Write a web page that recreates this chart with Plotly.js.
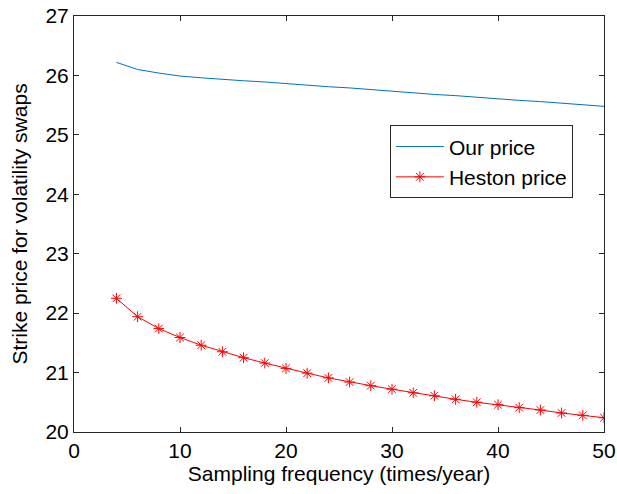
<!DOCTYPE html>
<html><head><meta charset="utf-8">
<script src="https://cdn.plot.ly/plotly-3.0.1.min.js"></script>
<style>html,body{margin:0;padding:0;background:#fff}#chart{width:617px;height:494px}</style>
</head><body><div id="chart"></div>
<script>
const freq = [4,6,8,10,12,14,16,18,20,22,24,26,28,30,32,34,36,38,40,42,44,46,48,50];
const ourPrice = [26.22,26.10,26.04,25.99,25.96,25.93,25.91,25.89,25.86,25.84,25.81,25.79,25.76,25.73,25.71,25.68,25.66,25.63,25.61,25.58,25.56,25.53,25.51,25.48];
const hestonPrice = [22.25,21.94,21.74,21.59,21.46,21.35,21.25,21.16,21.07,20.99,20.91,20.84,20.78,20.72,20.66,20.61,20.55,20.50,20.46,20.41,20.37,20.32,20.28,20.24];
const xTicks = [0,10,20,30,40,50];
const yTicks = [20,21,22,23,24,25,26,27];

const FONT = 'Liberation Sans, Arial, sans-serif';
const traces = [
  {x: freq, y: ourPrice, type: 'scatter', mode: 'lines', name: 'Our price',
   line: {color: '#0072BD', width: 1}},
  {x: freq, y: hestonPrice, type: 'scatter', mode: 'lines+markers', name: 'Heston price',
   line: {color: '#FF0000', width: 1},
   marker: {symbol: 'asterisk-open', size: 9, color: '#FF0000', line: {color: '#FF0000', width: 1}}}
];
const axisCommon = {
  showgrid: false, zeroline: false, showline: true, mirror: 'ticks',
  linecolor: '#262626', linewidth: 1, ticks: 'inside', ticklen: 5, tickcolor: '#262626',
  tickfont: {family: FONT, size: 21, color: '#000'}
};
const layout = {
  width: 617, height: 494,
  margin: {l: 74, r: 13, t: 16, b: 62},
  paper_bgcolor: '#fff', plot_bgcolor: '#fff',
  font: {family: FONT, size: 21, color: '#000'},
  xaxis: Object.assign({}, axisCommon, {range: [0, 50], tickvals: xTicks,
    title: {text: 'Sampling frequency (times/year)', standoff: 4, font: {family: FONT, size: 21}}}),
  yaxis: Object.assign({}, axisCommon, {range: [20, 27], tickvals: yTicks,
    title: {text: 'Strike price for volatility swaps', standoff: 12, font: {family: FONT, size: 21}}}),
  showlegend: true,
  legend: {x: 0.596, y: 0.737, xanchor: 'left', yanchor: 'top',
    bordercolor: '#262626', borderwidth: 1, bgcolor: '#fff', itemwidth: 48,
    font: {family: FONT, size: 21}, tracegroupgap: 0}
};
Plotly.newPlot('chart', traces, layout, {displayModeBar: false, staticPlot: true});
</script></body></html>
